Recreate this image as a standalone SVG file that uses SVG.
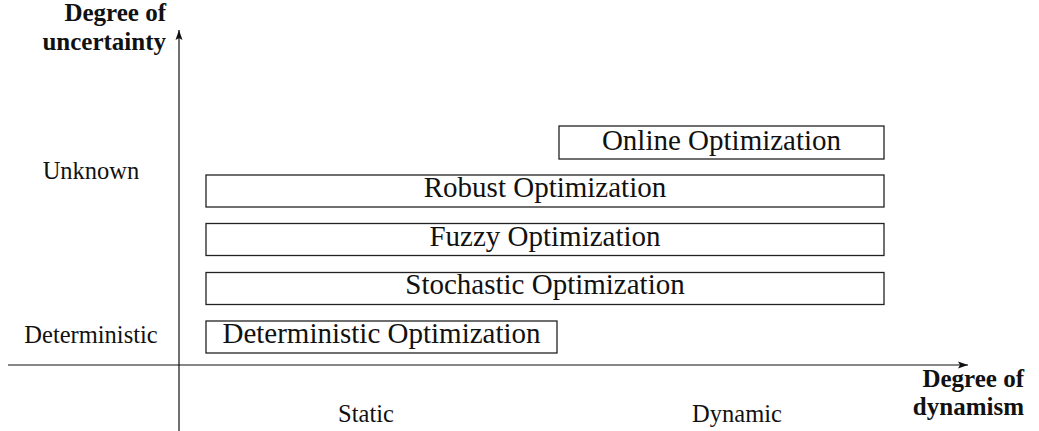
<svg xmlns="http://www.w3.org/2000/svg" width="1039" height="431" viewBox="0 0 1039 431">
<style>
.box{fill:#fff;stroke:#222;stroke-width:1.3}
.bt{font-family:'Liberation Serif','DejaVu Serif',serif;font-size:29px;fill:#111;text-anchor:middle}
.lb{font-family:'Liberation Serif','DejaVu Serif',serif;font-size:24.5px;fill:#111;text-anchor:middle}
.ax{font-family:'Liberation Serif','DejaVu Serif',serif;font-size:25px;font-weight:bold;fill:#111;text-anchor:end}
.axis{stroke:#111;stroke-width:1.2;fill:none}
</style>
<defs>
<marker id="arr" markerWidth="11" markerHeight="8" refX="10" refY="4" orient="auto" markerUnits="userSpaceOnUse">
<path d="M0,0.5 L10,4 L0,7.5 L2,4 Z" fill="#111"/>
</marker>
</defs>
<rect width="1039" height="431" fill="#fff"/>
<g id="connectors">
<line class="axis" x1="179" y1="431" x2="179" y2="30" marker-end="url(#arr)"/>
<line class="axis" x1="8" y1="365" x2="968" y2="365" marker-end="url(#arr)"/>
</g>
<g id="axis-labels">
<text class="ax" x="166" y="21">Degree of</text>
<text class="ax" x="166" y="50">uncertainty</text>
<text class="ax" x="1024" y="387">Degree of</text>
<text class="ax" x="1024" y="415">dynamism</text>
<text class="lb" x="91" y="179">Unknown</text>
<text class="lb" x="91" y="343">Deterministic</text>
<text class="lb" x="366" y="422">Static</text>
<text class="lb" x="737" y="422">Dynamic</text>
</g>
<g id="online">
<rect class="box" x="559" y="126" width="325" height="33"/>
<text class="bt" x="721.5" y="150">Online Optimization</text>
</g>
<g id="robust">
<rect class="box" x="206" y="175" width="678" height="32"/>
<text class="bt" x="545" y="197">Robust Optimization</text>
</g>
<g id="fuzzy">
<rect class="box" x="206" y="223.5" width="678" height="32"/>
<text class="bt" x="545" y="246">Fuzzy Optimization</text>
</g>
<g id="stochastic">
<rect class="box" x="206" y="272.5" width="678" height="32"/>
<text class="bt" x="545" y="294">Stochastic Optimization</text>
</g>
<g id="deterministic">
<rect class="box" x="206" y="321" width="351" height="32"/>
<text class="bt" x="381.5" y="343">Deterministic Optimization</text>
</g>
</svg>
